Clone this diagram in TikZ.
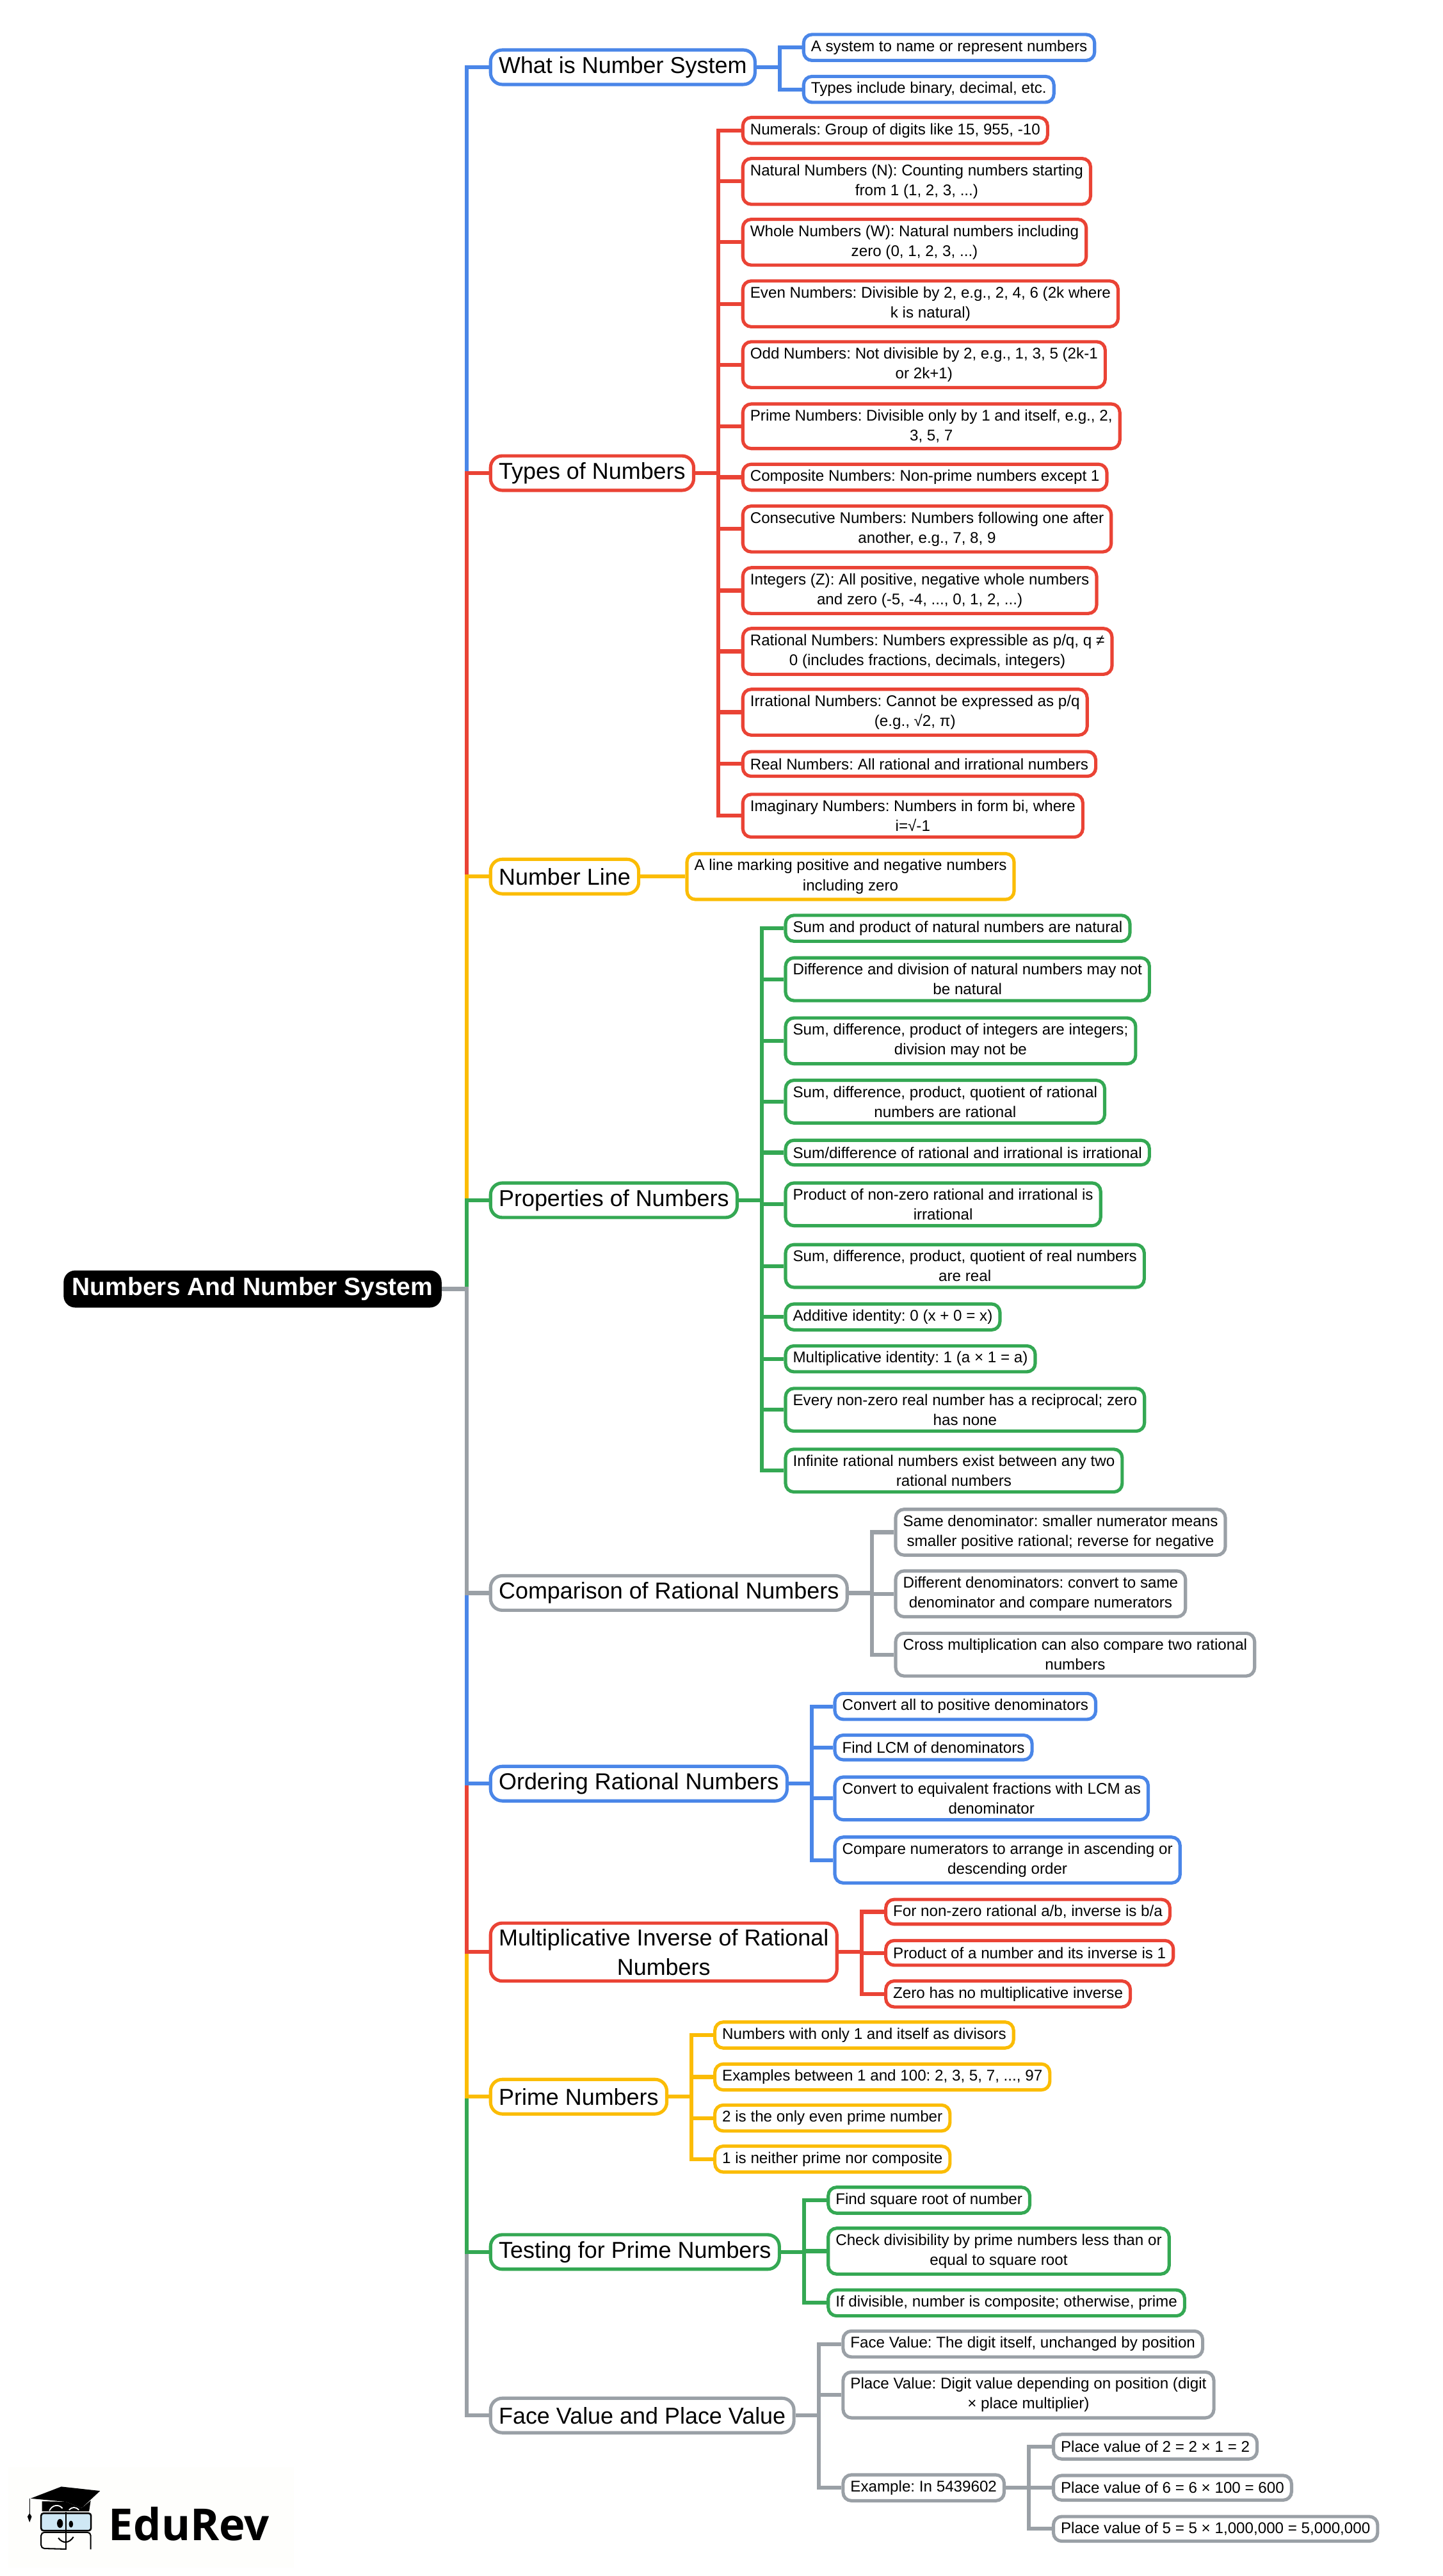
\documentclass[tikz,border=0pt]{standalone}
\usepackage{fontspec}
\setmainfont{Liberation Sans}
\newfontfamily\logofont{Open Sans}
\frenchspacing
\definecolor{mapblue}{HTML}{4A86E8}
\definecolor{mapred}{HTML}{EA4335}
\definecolor{mapyellow}{HTML}{FBBC04}
\definecolor{mapgreen}{HTML}{34A853}
\definecolor{mapgrey}{HTML}{9AA0A6}
\definecolor{lensblue}{HTML}{CFE8F5}
\definecolor{logoback}{HTML}{FEFEFC}
\tikzstyle{leaf} = [draw, rectangle, fill=white, rounded corners=0.18cm, line width=2pt,
    anchor=west, align=center, inner xsep=4.5pt, inner ysep=3.5pt, minimum height=15pt,
    font=\fontsize{9.42}{12.1}\selectfont]
\tikzstyle{topic} = [draw, rectangle, fill=white, rounded corners=0.25cm, line width=2pt,
    anchor=west, align=center, inner xsep=5pt, inner ysep=3.5pt, minimum height=21pt,
    font=\fontsize{14}{18}\selectfont]
\tikzstyle{root} = [rectangle, fill=black, text=white, rounded corners=0.25cm,
    anchor=west, inner xsep=5.2pt, minimum height=22.6pt,
    font=\fontsize{15.2}{18}\selectfont\bfseries]
\tikzstyle{stem} = [draw, line width=2.4pt]
\tikzstyle{mblue} = [draw=mapblue]
\tikzstyle{mred} = [draw=mapred]
\tikzstyle{myellow} = [draw=mapyellow]
\tikzstyle{mgreen} = [draw=mapgreen]
\tikzstyle{mgrey} = [draw=mapgrey]

\begin{document}
\begin{tikzpicture}[x=1pt, y=-1pt]
    \useasboundingbox (0,-0.4) rectangle (877.7,1567.2);
    \node [root] (rootnode) at (38.5,784) {Numbers And Number System};

    % main topics
    \node [topic, mblue] (what) at (297.5,40.5) {What is Number System};
    \node [topic, mred] (types) at (297.5,287.5) {Types of Numbers};
    \node [topic, myellow] (numline) at (297.5,533) {Number Line};
    \node [topic, mgreen] (props) at (297.5,730) {Properties of Numbers};
    \node [topic, mgrey] (compare) at (297.5,969) {Comparison of Rational Numbers};
    \node [topic, mblue] (ordering) at (297.5,1085) {Ordering Rational Numbers};
    \node [topic, mred] (inverse) at (297.5,1187.5) {Multiplicative Inverse of Rational\\Numbers};
    \node [topic, myellow] (prime) at (297.5,1275.5) {Prime Numbers};
    \node [topic, mgreen] (testing) at (297.5,1370) {Testing for Prime Numbers};
    \node [topic, mgrey] (face) at (297.5,1469.5) {Face Value and Place Value};

    % what is number system
    \node [leaf, mblue] (what1) at (488,28.5) {A system to name or represent numbers};
    \node [leaf, mblue] (what2) at (488,54) {Types include binary, decimal, etc.};

    % types of numbers
    \node [leaf, mred] (types1) at (451,79) {Numerals: Group of digits like 15, 955, -10};
    \node [leaf, mred] (types2) at (451,110) {Natural Numbers (N): Counting numbers starting\\from 1 (1, 2, 3, ...)};
    \node [leaf, mred] (types3) at (451,147) {Whole Numbers (W): Natural numbers including\\zero (0, 1, 2, 3, ...)};
    \node [leaf, mred] (types4) at (451,184.5) {Even Numbers: Divisible by 2, e.g., 2, 4, 6 (2k where\\k is natural)};
    \node [leaf, mred] (types5) at (451,221.5) {Odd Numbers: Not divisible by 2, e.g., 1, 3, 5 (2k-1\\or 2k+1)};
    \node [leaf, mred] (types6) at (451,259) {Prime Numbers: Divisible only by 1 and itself, e.g., 2,\\3, 5, 7};
    \node [leaf, mred] (types7) at (451,290) {Composite Numbers: Non-prime numbers except 1};
    \node [leaf, mred] (types8) at (451,321.5) {Consecutive Numbers: Numbers following one after\\another, e.g., 7, 8, 9};
    \node [leaf, mred] (types9) at (451,359) {Integers (Z): All positive, negative whole numbers\\and zero (-5, -4, ..., 0, 1, 2, ...)};
    \node [leaf, mred] (types10) at (451,396) {Rational Numbers: Numbers expressible as p/q, q ≠\\0 (includes fractions, decimals, integers)};
    \node [leaf, mred] (types11) at (451,433) {Irrational Numbers: Cannot be expressed as p/q\\(e.g., √2, π)};
    \node [leaf, mred] (types12) at (451,464.5) {Real Numbers: All rational and irrational numbers};
    \node [leaf, mred] (types13) at (451,496) {Imaginary Numbers: Numbers in form bi, where\\i=√-1};

    % number line
    \node [leaf, myellow] (numline1) at (417,533) {A line marking positive and negative numbers\\including zero};

    % properties of numbers
    \node [leaf, mgreen] (props1) at (477,564.5) {Sum and product of natural numbers are natural};
    \node [leaf, mgreen] (props2) at (477,595.5) {Difference and division of natural numbers may not\\be natural};
    \node [leaf, mgreen] (props3) at (477,633) {Sum, difference, product of integers are integers;\\division may not be};
    \node [leaf, mgreen] (props4) at (477,670) {Sum, difference, product, quotient of rational\\numbers are rational};
    \node [leaf, mgreen] (props5) at (477,701) {Sum/difference of rational and irrational is irrational};
    \node [leaf, mgreen] (props6) at (477,732.5) {Product of non-zero rational and irrational is\\irrational};
    \node [leaf, mgreen] (props7) at (477,770) {Sum, difference, product, quotient of real numbers\\are real};
    \node [leaf, mgreen] (props8) at (477,801) {Additive identity: 0 (x + 0 = x)};
    \node [leaf, mgreen] (props9) at (477,826.5) {Multiplicative identity: 1 (a × 1 = a)};
    \node [leaf, mgreen] (props10) at (477,857.5) {Every non-zero real number has a reciprocal; zero\\has none};
    \node [leaf, mgreen] (props11) at (477,894.5) {Infinite rational numbers exist between any two\\rational numbers};

    % comparison of rational numbers
    \node [leaf, mgrey] (compare1) at (544,932) {Same denominator: smaller numerator means\\smaller positive rational; reverse for negative};
    \node [leaf, mgrey] (compare2) at (544,969.5) {Different denominators: convert to same\\denominator and compare numerators};
    \node [leaf, mgrey] (compare3) at (544,1006.5) {Cross multiplication can also compare two rational\\numbers};

    % ordering rational numbers
    \node [leaf, mblue] (ordering1) at (507,1038) {Convert all to positive denominators};
    \node [leaf, mblue] (ordering2) at (507,1063) {Find LCM of denominators};
    \node [leaf, mblue] (ordering3) at (507,1094) {Convert to equivalent fractions with LCM as\\denominator};
    \node [leaf, mblue] (ordering4) at (507,1131.5) {Compare numerators to arrange in ascending or\\descending order};

    % multiplicative inverse
    \node [leaf, mred] (inverse1) at (538,1163) {For non-zero rational a/b, inverse is b/a};
    \node [leaf, mred] (inverse2) at (538,1188) {Product of a number and its inverse is 1};
    \node [leaf, mred] (inverse3) at (538,1213) {Zero has no multiplicative inverse};

    % prime numbers
    \node [leaf, myellow] (prime1) at (434,1238) {Numbers with only 1 and itself as divisors};
    \node [leaf, myellow] (prime2) at (434,1263.5) {Examples between 1 and 100: 2, 3, 5, 7, ..., 97};
    \node [leaf, myellow] (prime3) at (434,1288.5) {2 is the only even prime number};
    \node [leaf, myellow] (prime4) at (434,1313.5) {1 is neither prime nor composite};

    % testing for prime numbers
    \node [leaf, mgreen] (testing1) at (503,1338.5) {Find square root of number};
    \node [leaf, mgreen] (testing2) at (503,1369.5) {Check divisibility by prime numbers less than or\\equal to square root};
    \node [leaf, mgreen] (testing3) at (503,1401) {If divisible, number is composite; otherwise, prime};

    % face value and place value
    \node [leaf, mgrey] (face1) at (512,1426) {Face Value: The digit itself, unchanged by position};
    \node [leaf, mgrey] (face2) at (512,1457) {Place Value: Digit value depending on position (digit\\× place multiplier)};
    \node [leaf, mgrey] (face3) at (512,1513.5) {Example: In 5439602};
    \node [leaf, mgrey] (example1) at (640,1488.5) {Place value of 2 = 2 × 1 = 2};
    \node [leaf, mgrey] (example2) at (640,1513.5) {Place value of 6 = 6 × 100 = 600};
    \node [leaf, mgrey] (example3) at (640,1538.5) {Place value of 5 = 5 × 1,000,000 = 5,000,000};

    % trunk, farthest branches first
    \draw [stem, mblue] (rootnode.east) -- ++(15,0) |- (what.west);
    \draw [stem, mred] (rootnode.east) -- ++(15,0) |- (types.west);
    \draw [stem, myellow] (rootnode.east) -- ++(15,0) |- (numline.west);
    \draw [stem, mgreen] (rootnode.east) -- ++(15,0) |- (props.west);
    \draw [stem, mgrey] (rootnode.east) -- ++(15,0) |- (face.west);
    \draw [stem, mgreen] (rootnode.east) -- ++(15,0) |- (testing.west);
    \draw [stem, myellow] (rootnode.east) -- ++(15,0) |- (prime.west);
    \draw [stem, mred] (rootnode.east) -- ++(15,0) |- (inverse.west);
    \draw [stem, mblue] (rootnode.east) -- ++(15,0) |- (ordering.west);
    \draw [stem, mgrey] (rootnode.east) -- ++(15,0) |- (compare.west);

    % branches
    \draw [stem, mblue] (what.east) -- ++(14,0) |- (what1.west);
    \draw [stem, mblue] (what.east) -- ++(14,0) |- (what2.west);
    \draw [stem, mred] (types.east) -- ++(14,0) |- (types1.west);
    \draw [stem, mred] (types.east) -- ++(14,0) |- (types2.west);
    \draw [stem, mred] (types.east) -- ++(14,0) |- (types3.west);
    \draw [stem, mred] (types.east) -- ++(14,0) |- (types4.west);
    \draw [stem, mred] (types.east) -- ++(14,0) |- (types5.west);
    \draw [stem, mred] (types.east) -- ++(14,0) |- (types6.west);
    \draw [stem, mred] (types.east) -- ++(14,0) |- (types7.west);
    \draw [stem, mred] (types.east) -- ++(14,0) |- (types8.west);
    \draw [stem, mred] (types.east) -- ++(14,0) |- (types9.west);
    \draw [stem, mred] (types.east) -- ++(14,0) |- (types10.west);
    \draw [stem, mred] (types.east) -- ++(14,0) |- (types11.west);
    \draw [stem, mred] (types.east) -- ++(14,0) |- (types12.west);
    \draw [stem, mred] (types.east) -- ++(14,0) |- (types13.west);
    \draw [stem, myellow] (numline.east) -- (numline1.west);
    \draw [stem, mgreen] (props.east) -- ++(14,0) |- (props1.west);
    \draw [stem, mgreen] (props.east) -- ++(14,0) |- (props2.west);
    \draw [stem, mgreen] (props.east) -- ++(14,0) |- (props3.west);
    \draw [stem, mgreen] (props.east) -- ++(14,0) |- (props4.west);
    \draw [stem, mgreen] (props.east) -- ++(14,0) |- (props5.west);
    \draw [stem, mgreen] (props.east) -- ++(14,0) |- (props6.west);
    \draw [stem, mgreen] (props.east) -- ++(14,0) |- (props7.west);
    \draw [stem, mgreen] (props.east) -- ++(14,0) |- (props8.west);
    \draw [stem, mgreen] (props.east) -- ++(14,0) |- (props9.west);
    \draw [stem, mgreen] (props.east) -- ++(14,0) |- (props10.west);
    \draw [stem, mgreen] (props.east) -- ++(14,0) |- (props11.west);
    \draw [stem, mgrey] (compare.east) -- ++(14,0) |- (compare1.west);
    \draw [stem, mgrey] (compare.east) -- ++(14,0) |- (compare2.west);
    \draw [stem, mgrey] (compare.east) -- ++(14,0) |- (compare3.west);
    \draw [stem, mblue] (ordering.east) -- ++(14,0) |- (ordering1.west);
    \draw [stem, mblue] (ordering.east) -- ++(14,0) |- (ordering2.west);
    \draw [stem, mblue] (ordering.east) -- ++(14,0) |- (ordering3.west);
    \draw [stem, mblue] (ordering.east) -- ++(14,0) |- (ordering4.west);
    \draw [stem, mred] (inverse.east) -- ++(14,0) |- (inverse1.west);
    \draw [stem, mred] (inverse.east) -- ++(14,0) |- (inverse2.west);
    \draw [stem, mred] (inverse.east) -- ++(14,0) |- (inverse3.west);
    \draw [stem, myellow] (prime.east) -- ++(14,0) |- (prime1.west);
    \draw [stem, myellow] (prime.east) -- ++(14,0) |- (prime2.west);
    \draw [stem, myellow] (prime.east) -- ++(14,0) |- (prime3.west);
    \draw [stem, myellow] (prime.east) -- ++(14,0) |- (prime4.west);
    \draw [stem, mgreen] (testing.east) -- ++(14,0) |- (testing1.west);
    \draw [stem, mgreen] (testing.east) -- ++(14,0) |- (testing2.west);
    \draw [stem, mgreen] (testing.east) -- ++(14,0) |- (testing3.west);
    \draw [stem, mgrey] (face.east) -- ++(14,0) |- (face1.west);
    \draw [stem, mgrey] (face.east) -- ++(14,0) |- (face2.west);
    \draw [stem, mgrey] (face.east) -- ++(14,0) |- (face3.west);
    \draw [stem, mgrey] (face3.east) -- ++(14,0) |- (example1.west);
    \draw [stem, mgrey] (face3.east) -- ++(14,0) |- (example2.west);
    \draw [stem, mgrey] (face3.east) -- ++(14,0) |- (example3.west);

    % logo
    \fill [logoback] (5,1501) rectangle (179,1562);
    \fill [black] (18.6,1520) -- (37.3,1512.8) -- (60.9,1515.4) -- (49.7,1525.8) -- (40,1522) -- cycle;
    \fill [black] (25.6,1521.7) -- (25.6,1527.8) -- (54.2,1527.8) -- (55.2,1521.3) -- (49.7,1525.8) -- (40,1522) -- cycle;
    \draw [white, line width=0.7pt] (30,1527.5) .. controls (32,1523.5) and (36,1523.5) .. (38,1526);
    \draw [white, line width=0.7pt] (42,1527) .. controls (44,1525) and (46,1525) .. (48,1527);
    \draw [black, line width=0.5pt] (18,1520) -- (18,1530);
    \fill [black] (18,1534.5) -- (16.7,1531) -- (18,1529) -- (19.3,1531) -- cycle;
    \draw [black, fill=lensblue, rounded corners=1.5pt, line width=1pt] (25,1529) rectangle (55.4,1539.6);
    \fill [black] (36.5,1535.2) ellipse (1.8 and 2.7);
    \fill [black] (43.2,1535.6) ellipse (1.3 and 2.1);
    \draw [black, rounded corners=2pt, line width=0.8pt] (40,1550.8) -- (25,1550.4) -- (25,1540.6) -- (55.2,1540.6) -- (55.2,1551);
    \draw [black, line width=0.8pt] (40.2,1528.4) -- (40.2,1551.1);
    \draw [black, line width=0.8pt] (35.5,1544) .. controls (38,1547.5) and (42,1547.5) .. (44.7,1543.4);
    \node [anchor=west, inner sep=0pt, font=\fontsize{26.8}{30}\logofont\bfseries] (logotext) at (66,1535.5) {EduRev};
\end{tikzpicture}
\end{document}
